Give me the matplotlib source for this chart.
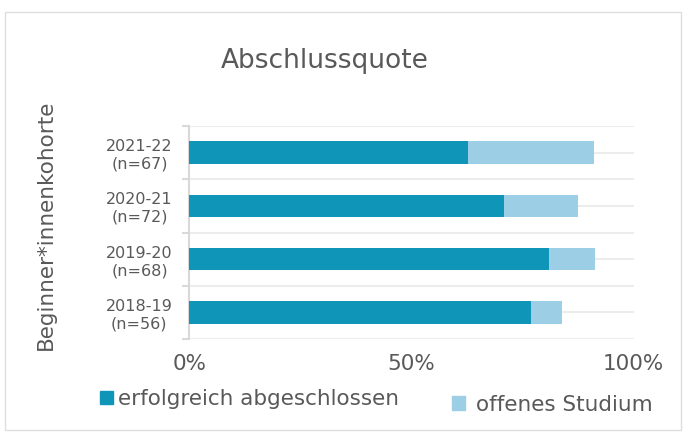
import matplotlib

matplotlib.use("Agg")
import matplotlib.pyplot as plt
import numpy as np
from matplotlib.patches import Patch, Rectangle

kohorten = ["2018-19\n(n=56)", "2019-20\n(n=68)", "2020-21\n(n=72)", "2021-22\n(n=67)"]
abgeschlossen = [76.8, 80.9, 70.8, 62.7]
offen = [7.1, 10.3, 16.7, 28.4]
x_ticks = [0, 50, 100]
x_labels = ["0%", "50%", "100%"]

DARK = "#0e95b8"
LIGHT = "#9ccee5"
TEXT = "#595959"
GRID = "#ececec"

plt.rcParams["font.family"] = ["DejaVu Sans"]

fig = plt.figure(figsize=(6.86, 4.33), dpi=100)
fig.patches.append(Rectangle((0.007, 0.008), 0.986, 0.965, transform=fig.transFigure,
                             fill=False, edgecolor="#dedede", linewidth=1.0))
ax = fig.add_axes([0.2762, 0.217, 0.6475, 0.492])

y = np.arange(len(kohorten))
ax.barh(y, abgeschlossen, height=0.42, color=DARK, zorder=3)
ax.barh(y, offen, left=abgeschlossen, height=0.42, color=LIGHT, zorder=3)

ax.set_xlim(0, 100)
ax.set_ylim(-0.5, len(kohorten) - 0.5)
ax.set_xticks(x_ticks)
ax.set_xticklabels(x_labels)
ax.set_yticks(y)
ax.set_yticklabels(kohorten)
ax.set_yticks(np.arange(-0.5, len(kohorten), 1.0), minor=True)

ax.grid(axis="y", which="both", color=GRID, linewidth=1.5, zorder=0)
ax.tick_params(axis="y", which="major", length=0, pad=12, labelsize=11.5, labelcolor=TEXT)
ax.tick_params(axis="y", which="minor", length=5, color="#d9d9d9", width=1.5)
ax.tick_params(axis="x", length=0, pad=11, labelsize=15.5, labelcolor=TEXT)
for lbl in ax.get_yticklabels():
    lbl.set_multialignment("center")

for side in ["top", "right", "bottom"]:
    ax.spines[side].set_visible(False)
ax.spines["left"].set_color("#d9d9d9")
ax.spines["left"].set_linewidth(1.5)

ax.set_ylabel("Beginner*innenkohorte", fontsize=15.5, color=TEXT)
ax.yaxis.set_label_coords(-0.30, 0.535)
fig.text(0.473, 0.859, "Abschlussquote", ha="center", va="center", fontsize=19, color=TEXT)

fig.legend(handles=[Patch(color=DARK, label="erfolgreich abgeschlossen")],
           loc="center left", bbox_to_anchor=(0.118, 0.078), frameon=False,
           handlelength=0.6, handleheight=0.6, handletextpad=0.2,
           fontsize=15.5, labelcolor=TEXT)
fig.legend(handles=[Patch(color=LIGHT, label="offenes Studium")],
           loc="center left", bbox_to_anchor=(0.631, 0.065), frameon=False,
           handlelength=0.6, handleheight=0.6, handletextpad=0.5,
           fontsize=15.5, labelcolor=TEXT)

fig.savefig("out.png", dpi=100)
